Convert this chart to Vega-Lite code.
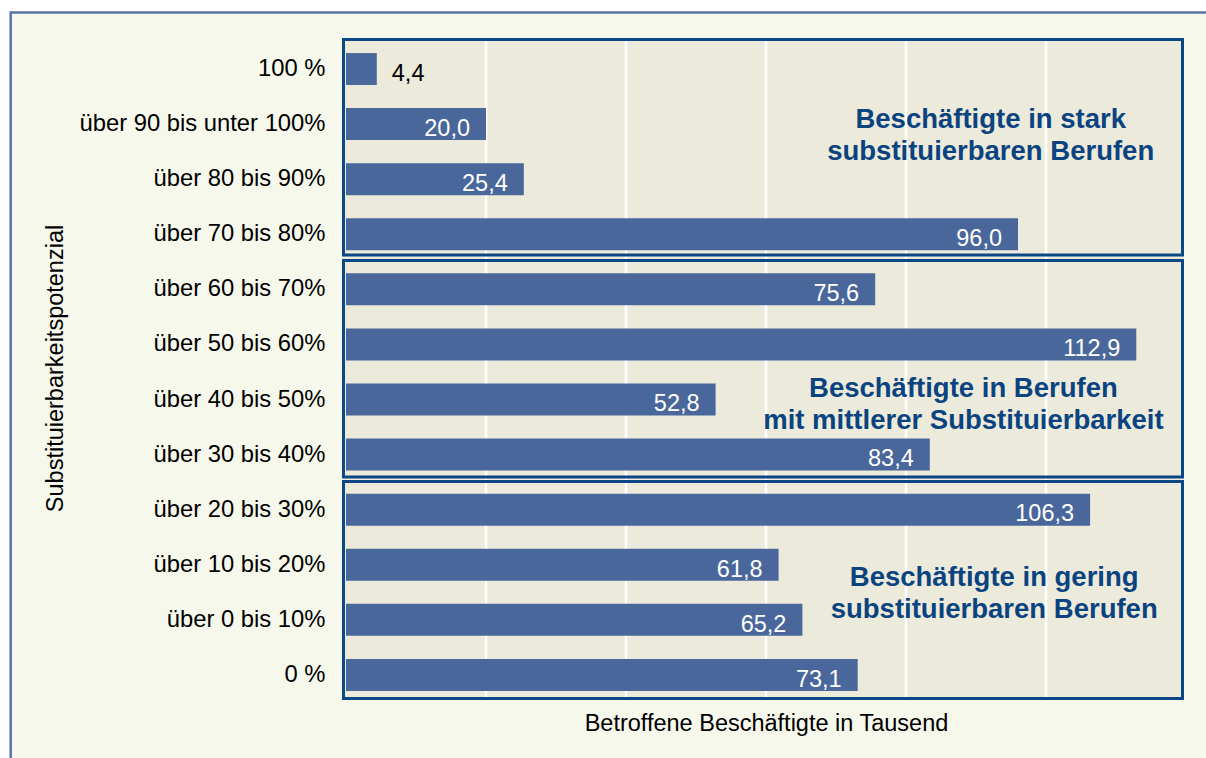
{
  "$schema": "https://vega.github.io/schema/vega-lite/v6.json",
  "width": 840,
  "height": 661,
  "autosize": {"type": "none"},
  "padding": {"left": 346, "top": 38, "right": 20, "bottom": 59},
  "background": "#ffffff",
  "config": {
    "view": {"stroke": null},
    "font": "Liberation Sans",
    "locale": {"number": {"decimal": ",", "thousands": ".", "grouping": [3], "currency": ["", " €"]}},
    "axisX": {"labels": false, "ticks": false, "domain": false, "grid": false, "titleFontSize": 23.5, "titleFontWeight": "normal", "titleColor": "#000000", "titleBaseline": "alphabetic", "titleY": 31, "zindex": 1}
  },
  "datasets": {
    "bars": [
      {"k": "100 %", "v": 4.4},
      {"k": "über 90 bis unter 100%", "v": 20.0},
      {"k": "über 80 bis 90%", "v": 25.4},
      {"k": "über 70 bis 80%", "v": 96.0},
      {"k": "über 60 bis 70%", "v": 75.6},
      {"k": "über 50 bis 60%", "v": 112.9},
      {"k": "über 40 bis 50%", "v": 52.8},
      {"k": "über 30 bis 40%", "v": 83.4},
      {"k": "über 20 bis 30%", "v": 106.3},
      {"k": "über 10 bis 20%", "v": 61.8},
      {"k": "über 0 bis 10%", "v": 65.2},
      {"k": "0 %", "v": 73.1}
    ],
    "frame": [{"v": -47.9, "v2": 130, "y1": -0.463, "y2": 13.5}],
    "plotbg": [{"v": -0.4, "v2": 119.6, "y1": 0, "y2": 12}],
    "grid": [{"v": 20}, {"v": 40}, {"v": 60}, {"v": 80}, {"v": 100}],
    "boxes": [
      {"v": -0.36, "v2": 119.5, "y1": 0.027, "y2": 3.94},
      {"v": -0.36, "v2": 119.5, "y1": 4.04, "y2": 7.97},
      {"v": -0.36, "v2": 119.5, "y1": 8.05, "y2": 11.99}
    ],
    "notes": [
      {"v": 92.1, "y1": 1.49, "t": ["Beschäftigte in stark", "substituierbaren Berufen"]},
      {"v": 88.2, "y1": 6.37, "t": ["Beschäftigte in Berufen", "mit mittlerer Substituierbarkeit"]},
      {"v": 92.6, "y1": 9.8, "t": ["Beschäftigte in gering", "substituierbaren Berufen"]}
    ]
  },
  "layer": [
    {
      "data": {"name": "frame"},
      "mark": {"type": "rect", "fill": "#f7f8ec", "stroke": "#5873a5", "strokeWidth": 2.5},
      "encoding": {
        "x": {"field": "v", "type": "quantitative", "scale": {"domain": [0, 120], "nice": false, "zero": false}, "axis": {"title": "Betroffene Beschäftigte in Tausend", "zindex": 2}},
        "x2": {"field": "v2"},
        "y": {"field": "y1", "type": "quantitative", "scale": {"domain": [0, 12], "reverse": true, "nice": false, "zero": false}, "axis": null},
        "y2": {"field": "y2"}
      }
    },
    {
      "data": {"name": "plotbg"},
      "mark": {"type": "rect", "fill": "#ecebdb"},
      "encoding": {
        "x": {"field": "v", "type": "quantitative", "scale": {"domain": [0, 120], "nice": false, "zero": false}, "axis": {"title": "Betroffene Beschäftigte in Tausend", "zindex": 2}},
        "x2": {"field": "v2"},
        "y": {"field": "y1", "type": "quantitative", "scale": {"domain": [0, 12], "reverse": true, "nice": false, "zero": false}, "axis": null},
        "y2": {"field": "y2"}
      }
    },
    {
      "data": {"name": "grid"},
      "mark": {"type": "rule", "color": "#ffffff", "strokeWidth": 2.5},
      "encoding": {
        "x": {"field": "v", "type": "quantitative", "scale": {"domain": [0, 120], "nice": false, "zero": false}, "axis": {"title": "Betroffene Beschäftigte in Tausend", "zindex": 2}}
      }
    },
    {
      "data": {"name": "bars"},
      "mark": {"type": "bar", "color": "#4a679c"},
      "encoding": {
        "y": {
          "field": "k", "type": "nominal",
          "scale": {"domain": ["100 %", "über 90 bis unter 100%", "über 80 bis 90%", "über 70 bis 80%", "über 60 bis 70%", "über 50 bis 60%", "über 40 bis 50%", "über 30 bis 40%", "über 20 bis 30%", "über 10 bis 20%", "über 0 bis 10%", "0 %"], "paddingInner": 0.42, "paddingOuter": 0.21, "align": 0.65},
          "axis": {"title": "Substituierbarkeitspotenzial", "labelFontSize": 23.8, "labelLimit": 400, "labelColor": "#000000", "labelPadding": 21, "ticks": false, "tickSize": 0, "domain": false, "grid": false, "titleFontSize": 23.5, "titleFontWeight": "normal", "titleColor": "#000000", "titleAngle": -90, "titleX": -291, "titleY": 330, "titleAlign": "center", "titleBaseline": "middle", "zindex": 2}
        },
        "x": {"field": "v", "type": "quantitative", "scale": {"domain": [0, 120], "nice": false, "zero": false}, "axis": {"title": "Betroffene Beschäftigte in Tausend", "zindex": 2}}
      }
    },
    {
      "data": {"name": "bars"},
      "transform": [{"filter": "datum.v >= 10"}],
      "mark": {"type": "text", "align": "right", "baseline": "middle", "dx": -16, "color": "#ffffff", "fontSize": 23.5},
      "encoding": {
        "y": {"field": "k", "type": "nominal", "scale": {"domain": ["100 %", "über 90 bis unter 100%", "über 80 bis 90%", "über 70 bis 80%", "über 60 bis 70%", "über 50 bis 60%", "über 40 bis 50%", "über 30 bis 40%", "über 20 bis 30%", "über 10 bis 20%", "über 0 bis 10%", "0 %"], "paddingInner": 0.42, "paddingOuter": 0.21, "align": 0.65}, "axis": null},
        "x": {"field": "v", "type": "quantitative", "scale": {"domain": [0, 120], "nice": false, "zero": false}, "axis": {"title": "Betroffene Beschäftigte in Tausend", "zindex": 2}},
        "text": {"field": "v", "type": "quantitative", "format": ".1f"}
      }
    },
    {
      "data": {"name": "bars"},
      "transform": [{"filter": "datum.v < 10"}],
      "mark": {"type": "text", "align": "left", "baseline": "middle", "dx": 15, "color": "#000000", "fontSize": 23.5},
      "encoding": {
        "y": {"field": "k", "type": "nominal", "scale": {"domain": ["100 %", "über 90 bis unter 100%", "über 80 bis 90%", "über 70 bis 80%", "über 60 bis 70%", "über 50 bis 60%", "über 40 bis 50%", "über 30 bis 40%", "über 20 bis 30%", "über 10 bis 20%", "über 0 bis 10%", "0 %"], "paddingInner": 0.42, "paddingOuter": 0.21, "align": 0.65}, "axis": null},
        "x": {"field": "v", "type": "quantitative", "scale": {"domain": [0, 120], "nice": false, "zero": false}, "axis": {"title": "Betroffene Beschäftigte in Tausend", "zindex": 2}},
        "text": {"field": "v", "type": "quantitative", "format": ".1f"}
      }
    },
    {
      "data": {"name": "boxes"},
      "mark": {"type": "rect", "filled": false, "stroke": "#0b4785", "strokeWidth": 3},
      "encoding": {
        "x": {"field": "v", "type": "quantitative", "scale": {"domain": [0, 120], "nice": false, "zero": false}, "axis": {"title": "Betroffene Beschäftigte in Tausend", "zindex": 2}},
        "x2": {"field": "v2"},
        "y": {"field": "y1", "type": "quantitative", "scale": {"domain": [0, 12], "reverse": true, "nice": false, "zero": false}, "axis": null},
        "y2": {"field": "y2"}
      }
    },
    {
      "data": {"name": "notes"},
      "mark": {"type": "text", "align": "center", "baseline": "middle", "fontSize": 27.5, "fontWeight": "bold", "color": "#0b4381", "lineHeight": 32},
      "encoding": {
        "x": {"field": "v", "type": "quantitative", "scale": {"domain": [0, 120], "nice": false, "zero": false}, "axis": {"title": "Betroffene Beschäftigte in Tausend", "zindex": 2}},
        "y": {"field": "y1", "type": "quantitative", "scale": {"domain": [0, 12], "reverse": true, "nice": false, "zero": false}, "axis": null},
        "text": {"field": "t"}
      }
    }
  ],
  "resolve": {"scale": {"y": "independent"}}
}
